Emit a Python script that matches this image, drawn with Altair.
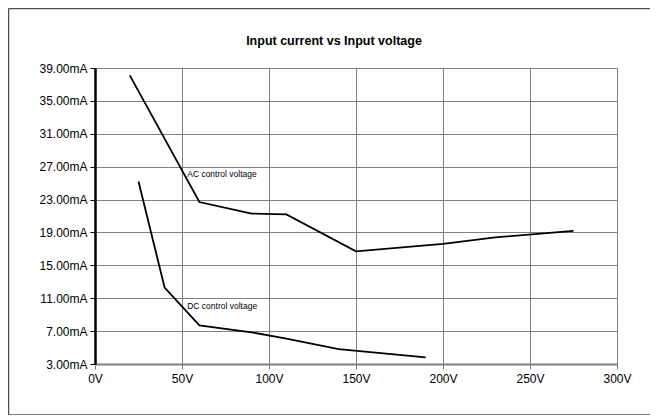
import altair as alt
import pandas as pd

ac_v = [20, 60, 90, 110, 150, 200, 230, 275]
ac_i = [38.1, 22.7, 21.3, 21.2, 16.7, 17.6, 18.4, 19.2]
dc_v = [25, 40, 60, 90, 110, 140, 190]
dc_i = [25.2, 12.3, 7.7, 6.85, 6.1, 4.8, 3.8]

label_text = ["AC control voltage", "DC control voltage"]
label_v = [53, 53]
label_i = [26.1, 10.0]

title_text = ["Input current vs Input voltage"]

y_ticks = [3, 7, 11, 15, 19, 23, 27, 31, 35, 39]
x_ticks = [0, 50, 100, 150, 200, 250, 300]

df = pd.concat([
    pd.DataFrame({"v": ac_v, "i": ac_i, "s": "AC"}),
    pd.DataFrame({"v": dc_v, "i": dc_i, "s": "DC"}),
])
lab = pd.DataFrame({"t": label_text, "v": label_v, "i": label_i})
tdf = pd.DataFrame({"t": title_text})

FONT = "Liberation Sans"

x = alt.X("v:Q", scale=alt.Scale(domain=[0, 300], nice=False),
          axis=alt.Axis(values=x_ticks, labelExpr="datum.value + 'V'", title=None,
                        domainColor="#808080", domainWidth=2, tickColor="#808080",
                        labelFontSize=12, labelPadding=4, tickSize=5, gridColor="#808080",
                        labelFlush=False, labelOverlap=False, tickCount=20))
y = alt.Y("i:Q", scale=alt.Scale(domain=[3, 39], nice=False, zero=False),
          axis=alt.Axis(values=y_ticks, labelExpr="format(datum.value, '.2f') + 'mA'", title=None,
                        domainColor="black", domainWidth=2.5, tickColor="black",
                        labelFontSize=12, labelPadding=3, tickSize=5, gridColor="#808080",
                        labelFlush=False, labelOverlap=False, tickCount=20))

lines = alt.Chart(df).mark_line(color="black", strokeWidth=1.8).encode(x=x, y=y, detail="s:N")

texts = alt.Chart(lab).mark_text(align="left", baseline="middle", fontSize=8.5, font=FONT,
                                 color="black").encode(x="v:Q", y="i:Q", text="t:N")

title = alt.Chart(tdf).mark_text(align="center", baseline="alphabetic", fontSize=12.5, font=FONT,
                                 fontWeight="bold", color="black").encode(
    x=alt.value(239), y=alt.value(-23), text="t:N")

fr = dict(stroke="#505050", strokeWidth=1.5, clip=False)
frame_top = alt.Chart(tdf).mark_rule(**fr).encode(
    x=alt.value(-86.5), x2=alt.value(600), y=alt.value(-59.5))
frame_bottom = alt.Chart(tdf).mark_rule(**fr).encode(
    x=alt.value(-86.5), x2=alt.value(600), y=alt.value(347))
frame_left = alt.Chart(tdf).mark_rule(**fr).encode(
    x=alt.value(-86.5), y=alt.value(-59.5), y2=alt.value(347))

chart = alt.layer(lines, texts, title, frame_top, frame_bottom, frame_left).properties(
    width=522, height=296,
    autosize=alt.AutoSizeParams(type="none"),
    padding={"left": 87, "top": 60, "right": 33, "bottom": 51},
).configure_view(stroke="#333333", strokeWidth=1).configure_axis(
    labelFont=FONT, labelColor="black", gridWidth=1
).configure(background="white")

chart.save("out.html", embed_options={"renderer": "svg", "actions": False})
